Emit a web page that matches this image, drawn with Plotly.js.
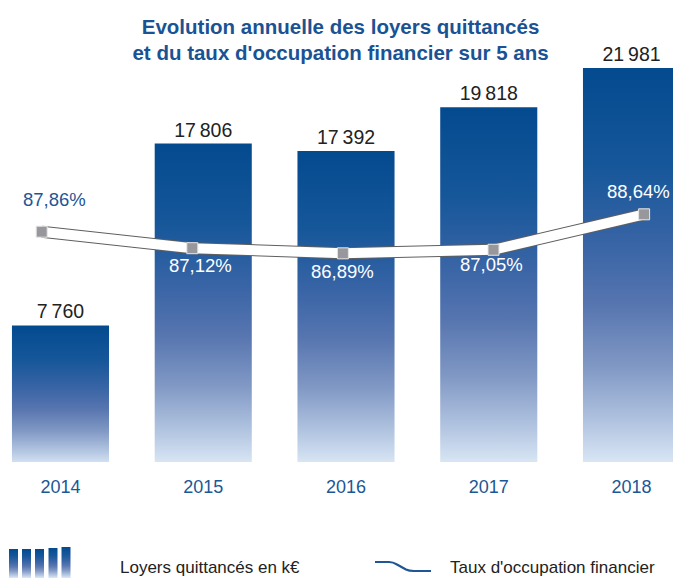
<!DOCTYPE html>
<html>
<head>
<meta charset="utf-8">
<script src="https://cdn.plot.ly/plotly-3.0.1.min.js"></script>
<style>
  html, body { margin: 0; padding: 0; background: #fff; }
  #chart { width: 673px; height: 579px; }
</style>
</head>
<body>
<div id="chart"></div>
<script>
// ---- data ----
const years = ['2014', '2015', '2016', '2017', '2018'];
const loyers = [7760, 17806, 17392, 19818, 21981];
const taux = [87.86, 87.12, 86.89, 87.05, 88.64];
const legendLabels = ['Loyers quittancés en k€', "Taux d'occupation financier"];
const titleText = "Evolution annuelle des loyers quittancés<br>et du taux d'occupation financier sur 5 ans";

// ---- styles ----
const FONT = 'Liberation Sans, Arial, Helvetica, sans-serif';
const BLUE = '#1b5796';
const labelShiftX = [13, 8, 0, -2, -6];
const labelShiftY = [32, -17, -18, -15, 23];
const labelColors = [BLUE, '#ffffff', '#ffffff', '#ffffff', '#ffffff'];
const gradStops = [
  [0, '#044a8f'], [0.25, '#16579a'], [0.45, '#3a65a6'], [0.6, '#5876b0'],
  [0.75, '#8098c4'], [0.9, '#b5c7e2'], [1, '#dce9f6']
];

const fmtK = n => String(n).replace(/\B(?=(\d{3})+(?!\d))/g, '\u2009');
const fmtPct = n => n.toFixed(2).replace('.', ',') + '%';

const W = 673, H = 579, T = 20, B = 117;
const plotH = H - T - B;
const px = x => x / W;
const py = y => (H - B - y) / plotH;

const barTrace = {
  type: 'bar', x: years, y: loyers, xaxis: 'x', yaxis: 'y',
  marker: { color: '#3a65a6', line: { width: 0 } },
  text: loyers.map(fmtK), textposition: 'outside', cliponaxis: false,
  textfont: { family: FONT, size: 19.5, color: '#222222' },
  hoverinfo: 'skip'
};
const lineBorder = {
  type: 'scatter', mode: 'lines', x: years, y: taux, xaxis: 'x2', yaxis: 'y2',
  line: { color: '#5f5f5f', width: 12 }, hoverinfo: 'skip'
};
const lineMain = {
  type: 'scatter', mode: 'lines+markers', x: years, y: taux, xaxis: 'x2', yaxis: 'y2',
  line: { color: '#ffffff', width: 10 },
  marker: { symbol: 'square', size: 11, color: '#98989c', line: { color: '#e6e6e6', width: 1 } },
  hoverinfo: 'skip'
};

const annotations = taux.map((v, i) => ({
  xref: 'x2', yref: 'y2', x: i, y: v, text: fmtPct(v), showarrow: false,
  xanchor: 'center', yanchor: 'middle',
  xshift: labelShiftX[i], yshift: labelShiftY[i],
  font: { family: FONT, size: 18.5, color: labelColors[i] }
}));
annotations.push({
  xref: 'paper', yref: 'paper', x: px(118), y: py(567), xanchor: 'left', yanchor: 'middle',
  text: legendLabels[0], showarrow: false, font: { family: FONT, size: 17, color: '#222222' }
});
annotations.push({
  xref: 'paper', yref: 'paper', x: px(448), y: py(567), xanchor: 'left', yanchor: 'middle',
  text: legendLabels[1], showarrow: false, font: { family: FONT, size: 17, color: '#222222' }
});

// legend icons
const shapes = [];
const iconBarX = [9, 22, 35, 48.5, 61.5];
const iconBarTop = [549, 549, 549, 548, 547];
iconBarX.forEach((x0, i) => {
  shapes.push({
    type: 'rect', xref: 'paper', yref: 'paper',
    x0: px(x0), x1: px(x0 + 9), y0: py(578), y1: py(iconBarTop[i]),
    fillcolor: '#3a65a6', line: { width: 0 }
  });
});
const P = (x, y) => px(x).toFixed(5) + ',' + py(y).toFixed(5);
shapes.push({
  type: 'path', xref: 'paper', yref: 'paper',
  path: 'M' + P(375, 562) + ' L' + P(389, 562) + ' Q' + P(393, 562) + ' ' + P(397, 564.5) +
        ' L' + P(406, 569.5) + ' Q' + P(409, 571) + ' ' + P(414, 571) + ' L' + P(431, 571),
  line: { color: '#1f5696', width: 2.2 }
});

const layout = {
  width: W, height: H,
  margin: { l: 0, r: 0, t: T, b: B, pad: 0 },
  paper_bgcolor: '#ffffff', plot_bgcolor: 'rgba(0,0,0,0)',
  showlegend: false, bargap: 0.32,
  font: { family: FONT },
  title: {
    text: titleText, xref: 'container', yref: 'container',
    x: 0.506, xanchor: 'center', y: 0.942, yanchor: 'top',
    font: { family: FONT, size: 20.5, color: '#1a5294', weight: 'bold' }
  },
  xaxis: {
    type: 'category', range: [-0.4238, 4.2907], showgrid: false, zeroline: false,
    showline: false, ticks: '', ticklabelstandoff: 12,
    tickfont: { family: FONT, size: 18, color: BLUE }, fixedrange: true
  },
  yaxis: { range: [215, 24635], visible: false, fixedrange: true },
  xaxis2: { type: 'category', overlaying: 'x', anchor: 'y2', range: [-0.2769, 4.1919], visible: false },
  yaxis2: { overlaying: 'y', anchor: 'x2', range: [77.533, 97.353], visible: false },
  annotations: annotations,
  shapes: shapes
};

const gd = document.getElementById('chart');
Plotly.newPlot(gd, [barTrace, lineBorder, lineMain], layout, { displayModeBar: false, staticPlot: true })
  .then(applyGradient);

function applyGradient() {
  const NS = 'http://www.w3.org/2000/svg';
  const svg = gd.querySelector('svg.main-svg');
  let defs = svg.querySelector('defs');
  if (!defs) { defs = document.createElementNS(NS, 'defs'); svg.insertBefore(defs, svg.firstChild); }
  const lg = document.createElementNS(NS, 'linearGradient');
  lg.setAttribute('id', 'barGrad');
  lg.setAttribute('x1', '0'); lg.setAttribute('y1', '0');
  lg.setAttribute('x2', '0'); lg.setAttribute('y2', '1');
  gradStops.forEach(s => {
    const st = document.createElementNS(NS, 'stop');
    st.setAttribute('offset', s[0]);
    st.setAttribute('stop-color', s[1]);
    lg.appendChild(st);
  });
  defs.appendChild(lg);
  gd.querySelectorAll('.barlayer .point path').forEach(p => { p.style.fill = 'url(#barGrad)'; });
  gd.querySelectorAll('.shapelayer path[data-index]').forEach(p => {
    const idx = +p.getAttribute('data-index');
    if (idx < iconBarX.length) p.style.fill = 'url(#barGrad)';
  });
}
</script>
</body>
</html>
